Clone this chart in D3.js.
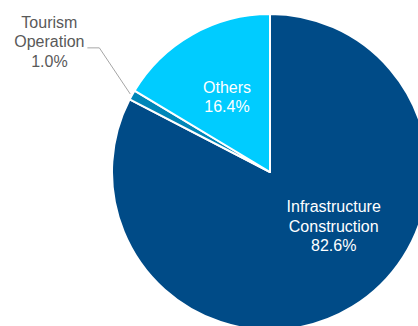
<!DOCTYPE html>
<html lang="en">
  <head>
    <meta charset="UTF-8" />
    <title>Pie</title>
    <script src="https://cdn.jsdelivr.net/npm/d3@7"></script>
    <style>
      body { margin: 0; background: #fff; }
      text { font-family: "Liberation Sans", Arial, sans-serif; font-size: 16px; }
    </style>
  </head>
  <body>
    <svg id="container" width="418" height="326"></svg>
    <script>
      // slice names, shares (%) and colours, clockwise from 12 o'clock
      let categories = ["Infrastructure Construction", "Tourism Operation", "Others"];
      let shares = [82.6, 1.0, 16.4];
      let colors = ["#004B87", "#0086B8", "#00CCFF"];

      let svg = d3.select("#container");
      let cx = 270, cy = 172, radius = 158;
      let body = svg.append("g").attr("transform", `translate(${cx},${cy})`);

      let data = categories.map((c, i) => ({ name: c, value: shares[i], color: colors[i] }));
      let pie = d3.pie().sort(null).value((d) => d.value);
      let arcs = pie(data);
      let arc = d3.arc().innerRadius(0).outerRadius(radius);

      body
        .selectAll("path")
        .data(arcs)
        .enter()
        .append("path")
        .attr("d", arc)
        .attr("fill", (d) => d.data.color)
        .attr("stroke", "white")
        .attr("stroke-width", 2)
        .attr("stroke-linejoin", "round");

      // helper: polar point, angle measured clockwise from 12 o'clock
      function polar(angle, r) {
        return [r * Math.sin(angle), -r * Math.cos(angle)];
      }

      // inside labels
      let inside = [
        { i: 0, angle: (130.7 * Math.PI) / 180, r: 84, fill: "white" },
        { i: 2, angle: (330 * Math.PI) / 180, r: 86, fill: "white" },
      ];
      inside.forEach((l) => {
        let d = arcs[l.i];
        let [x, y] = polar(l.angle, l.r);
        let lines = d.data.name.split(" ").concat([d.data.value.toFixed(1) + "%"]);
        let t = body
          .append("text")
          .attr("text-anchor", "middle")
          .attr("fill", l.fill)
          .attr("transform", `translate(${x},${y - ((lines.length - 1) * 19.5) / 2 + 5})`);
        lines.forEach((s, k) => {
          t.append("tspan").attr("x", 0).attr("y", k * 19.5).text(s);
        });
      });

      // outside label with leader line for the small slice
      let small = arcs[1];
      let mid = (small.startAngle + small.endAngle) / 2;
      let p0 = polar(mid, radius + 2);
      let p1 = polar(mid + 0.12, 211);
      let p2 = [p1[0] - 12, p1[1]];
      body
        .append("polyline")
        .attr("points", [p0, p1, p2].map((p) => p.join(",")).join(" "))
        .attr("fill", "none")
        .attr("stroke", "#A6A6A6")
        .attr("stroke-width", 1);

      let lines = small.data.name.split(" ").concat([small.data.value.toFixed(1) + "%"]);
      let t = body
        .append("text")
        .attr("text-anchor", "middle")
        .attr("fill", "#595959")
        .attr("transform", `translate(${p2[0] - 38},${p2[1] - 20})`);
      lines.forEach((s, k) => {
        t.append("tspan").attr("x", 0).attr("y", k * 19.5).text(s);
      });
    </script>
  </body>
</html>
